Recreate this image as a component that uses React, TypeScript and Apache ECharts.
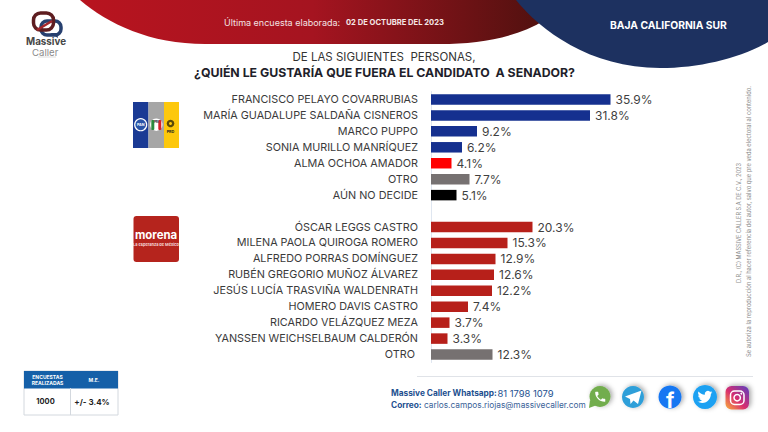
import React, { useEffect, useRef } from "react";
import * as echarts from "echarts";

const categories = [
  "FRANCISCO PELAYO COVARRUBIAS", "MARÍA GUADALUPE SALDAÑA CISNEROS", "MARCO PUPPO",
  "SONIA MURILLO MANRÍQUEZ", "ALMA OCHOA AMADOR", "OTRO", "AÚN NO DECIDE", " ",
  "ÓSCAR LEGGS CASTRO", "MILENA PAOLA QUIROGA ROMERO", "ALFREDO PORRAS DOMÍNGUEZ",
  "RUBÉN GREGORIO MUÑOZ ÁLVAREZ", "JESÚS LUCÍA TRASVIÑA WALDENRATH", "HOMERO DAVIS CASTRO",
  "RICARDO VELÁZQUEZ MEZA", "YANSSEN WEICHSELBAUM CALDERÓN", "OTRO ",
];
const values = [35.9, 31.8, 9.2, 6.2, 4.1, 7.7, 5.1, null, 20.3, 15.3, 12.9, 12.6, 12.2, 7.4, 3.7, 3.3, 12.3];
const barColors = [
  "#15308f", "#15308f", "#15308f", "#15308f", "#ff0000", "#767171", "#000000", "#ffffff",
  "#b7201a", "#b7201a", "#b7201a", "#b7201a", "#b7201a", "#b7201a", "#b7201a", "#b7201a", "#767171",
];

const FONT = "Inter";
const SHADOW = { shadowBlur: 5, shadowColor: "rgba(0,0,0,0.35)", shadowOffsetX: 2, shadowOffsetY: -1 };

echarts.graphic.registerShape("redBand", echarts.graphic.extendPath(
  "M80 0 C108 24 150 44 205 44 L440 44 C480 44 515 38 545 20 L545 0 Z", {}));
echarts.graphic.registerShape("navyBand", echarts.graphic.extendPath(
  "M516 0 C540 30 590 68 660 68 C700 68 740 58 768 42 L768 0 Z", {}));
echarts.graphic.registerShape("phoneIcon", echarts.graphic.extendPath(
  "M6.6 10.8c1.4 2.8 3.8 5.1 6.6 6.6l2.2-2.2c.3-.3.7-.4 1-.2 1.1.4 2.3.6 3.6.6.6 0 1 .4 1 1V20c0 .6-.4 1-1 1C10.6 21 3 13.4 3 4c0-.6.4-1 1-1h3.5c.6 0 1 .4 1 1 0 1.3.2 2.5.6 3.6.1.3 0 .7-.2 1z", {}));
echarts.graphic.registerShape("birdIcon", echarts.graphic.extendPath(
  "M23.953 4.57a10 10 0 0 1 -2.825 .775 4.958 4.958 0 0 0 2.163 -2.723c-.951 .555 -2.005 .959 -3.127 1.184a4.92 4.92 0 0 0 -8.384 4.482C7.69 8.095 4.067 6.13 1.64 3.162a4.822 4.822 0 0 0 -.666 2.475c0 1.71 .87 3.213 2.188 4.096a4.904 4.904 0 0 1 -2.228 -.616v.06a4.923 4.923 0 0 0 3.946 4.827 4.996 4.996 0 0 1 -2.212 .085 4.936 4.936 0 0 0 4.604 3.417 9.867 9.867 0 0 1 -6.102 2.105c-.39 0 -.779 -.023 -1.17 -.067a13.995 13.995 0 0 0 7.557 2.209c9.053 0 13.998 -7.496 13.998 -13.985 0 -.21 0 -.42 -.015 -.63A9.935 9.935 0 0 0 24 4.59z", {}));

const txt = (text: string, x: number, y: number, fontSize: number, fill: string, extra: any = {}, rotation = 0) => ({
  type: "text", x, y, rotation, silent: true,
  style: { text, fontSize, fill, fontFamily: FONT, textAlign: "left", textVerticalAlign: "middle", ...extra },
});
const rect = (x: number, y: number, width: number, height: number, fill: any, extra: any = {}, r = 0) => ({
  type: "rect", shape: { x, y, width, height, r }, style: { fill, ...extra }, silent: true,
});
const circle = (cx: number, cy: number, r: number, style: any) => ({
  type: "circle", shape: { cx, cy, r }, style, silent: true,
});

export default function App() {
  const ref = useRef<HTMLDivElement>(null);
  useEffect(() => {
    const chart = echarts.init(ref.current!, null, { renderer: "svg" });
    const redGrad = new echarts.graphic.LinearGradient(0, 0, 1, 0, [
      { offset: 0, color: "#b8141f" }, { offset: 0.5, color: "#a51420" }, { offset: 1, color: "#50110f" },
    ]);
    const instaGrad = new echarts.graphic.LinearGradient(0, 1, 1, 0, [
      { offset: 0, color: "#f9b13a" }, { offset: 0.45, color: "#d92d6e" }, { offset: 1, color: "#5a3fc0" },
    ]);
    chart.setOption({
      animation: false,
      backgroundColor: "#ffffff",
      title: [
        { text: "DE LAS SIGUIENTES  PERSONAS,", left: 379, top: 46, textAlign: "center",
          textStyle: { fontFamily: FONT, fontSize: 11.5, fontWeight: "normal", color: "#333333" } },
        { text: "¿QUIÉN LE GUSTARÍA QUE FUERA EL CANDIDATO  A SENADOR?", left: 379.5, top: 61, textAlign: "center",
          textStyle: { fontFamily: FONT, fontSize: 12.3, fontWeight: "bold", color: "#1f1f2b" } },
      ],
      grid: { left: 431, top: 91.5, width: 250, height: 271 },
      xAxis: { type: "value", min: 0, max: 50, show: false },
      yAxis: {
        type: "category", inverse: true, data: categories,
        axisTick: { show: false },
        axisLine: { show: true, lineStyle: { color: "#dfe6f0", width: 1 } },
        axisLabel: { interval: 0, margin: 13, fontSize: 10.8, color: "#3a3a3a", fontFamily: FONT },
      },
      series: [{
        type: "bar", barWidth: 10.5,
        data: values.map((value, i) => ({ value, itemStyle: { color: barColors[i] } })),
        label: {
          show: true, position: "right", distance: 5, fontSize: 12, color: "#3f3f3f", fontFamily: FONT,
          formatter: (p: any) => `${p.value}%`,
        },
      }],
      graphic: [
        { type: "redBand", style: { fill: redGrad }, silent: true },
        { type: "navyBand", style: { fill: "#1d3160" }, silent: true },
        txt("Última encuesta elaborada:", 224, 22, 9, "#f3e3e3"),
        txt("02 DE OCTUBRE DEL 2023", 346, 22, 7.6, "#f5e6e6", { fontWeight: "bold" }),
        txt("BAJA CALIFORNIA SUR", 610, 25, 10.3, "#ffffff", { fontWeight: "bold" }),

        // Massive Caller logo
        rect(41, 21, 20, 14, "none", { stroke: "#27406f", lineWidth: 3.5 }, 6),
        { type: "polygon", shape: { points: [[50, 33], [57, 33], [58, 38]] }, style: { fill: "#27406f" }, silent: true },
        rect(33.5, 13, 20, 17, "none", { stroke: "#5e1d20", lineWidth: 3.5 }, 7),
        { type: "line", shape: { x1: 37, y1: 30, x2: 52, y2: 21 }, style: { stroke: "#a3262c", lineWidth: 2.5 }, silent: true },
        txt("Massive", 26, 41, 9.8, "#474747", { fontWeight: "bold" }),
        txt("Caller", 32, 52, 9.6, "#8a8a8a"),
        rect(38, 56.5, 18, 1, "#dddddd"),

        // Coalition flag
        rect(133, 102, 15.5, 46, "#1a3a94"),
        rect(148.5, 102, 15.5, 46, "#a6a6a6"),
        rect(164, 102, 15, 46, "#fdc80c"),
        circle(140.7, 124.7, 6, { fill: "#2a54a8", stroke: "#ffffff", lineWidth: 1.2 }),
        txt("PAN", 140.7, 124.7, 3.6, "#ffffff", { fontWeight: "bold", textAlign: "center" }),
        circle(156.3, 124.7, 6.2, { fill: "#ffffff" }),
        rect(151.3, 120, 3, 10, "#2b8a3e", {}, 1),
        rect(158.3, 120, 3, 10, "#d4202a", {}, 1),
        txt("PRI", 156.3, 122, 3, "#222222", { fontWeight: "bold", textAlign: "center" }),
        circle(170.5, 123.5, 3.8, { fill: "#5a4a08" }),
        circle(170.5, 123.5, 1.5, { fill: "#fdc80c" }),
        txt("PRD", 170.5, 131, 3.8, "#222222", { fontWeight: "bold", textAlign: "center" }),

        // Morena logo
        rect(133.5, 216, 45.5, 46, "#b5241d", {}, 3),
        txt("morena", 156, 235, 11.4, "#ffffff", { fontWeight: "bold", textAlign: "center" }),
        txt("La esperanza de México", 156, 244, 3.9, "#f6dcdc", { fontWeight: "bold", textAlign: "center" }),

        // Survey table
        rect(24, 371, 94, 44, "#ffffff", { stroke: "#d3d8de", lineWidth: 1 }),
        rect(24, 371, 94, 17.5, "#1560a8"),
        { type: "line", shape: { x1: 70.5, y1: 388, x2: 70.5, y2: 415 }, style: { stroke: "#d3d8de" }, silent: true },
        txt("ENCUESTAS", 47.5, 376.5, 5, "#ffffff", { fontWeight: "bold", textAlign: "center" }),
        txt("REALIZADAS", 47.5, 383, 5, "#ffffff", { fontWeight: "bold", textAlign: "center" }),
        txt("M.E.", 94, 379.5, 5, "#ffffff", { fontWeight: "bold", textAlign: "center" }),
        txt("1000", 45.5, 401.5, 7.5, "#222222", { fontWeight: "bold", textAlign: "center" }),
        txt("+/- 3.4%", 92, 401.5, 8, "#222222", { fontWeight: "bold", textAlign: "center" }),

        // Footer
        { type: "line", shape: { x1: 417, y1: 376.5, x2: 753, y2: 376.5 }, style: { stroke: "#e0e3e8" }, silent: true },
        txt("Massive Caller Whatsapp:", 391, 393, 8.3, "#23508f", { fontWeight: "bold" }),
        txt("81 1798 1079", 497.5, 393, 9.4, "#23508f"),
        txt("Correo:", 391, 404.5, 8.3, "#23508f", { fontWeight: "bold" }),
        txt("carlos.campos.riojas@massivecaller.com", 424, 404.5, 8.3, "#3a6298"),

        circle(600, 396.5, 10.5, { fill: "#72ad4d", ...SHADOW }),
        { type: "polygon", shape: { points: [[590, 400], [589, 408], [597, 405]] }, style: { fill: "#72ad4d" }, silent: true },
        { type: "phoneIcon", x: 593.5, y: 390, scaleX: 0.56, scaleY: 0.56, style: { fill: "#ffffff" }, silent: true },

        circle(633, 397, 11, { fill: "#2f9fd9", ...SHADOW }),
        { type: "polygon", shape: { points: [[625, 396.5], [641.5, 390.5], [638, 404], [633.5, 400.5], [630.5, 404], [630, 399]] },
          style: { fill: "#ffffff" }, silent: true },

        circle(670, 397, 11.5, { fill: "#1877f2", ...SHADOW }),
        txt("f", 666, 400, 21, "#ffffff", { fontWeight: "bold" }),

        circle(705, 397, 12, { fill: "#1da1f2", ...SHADOW }),
        { type: "birdIcon", x: 697.5, y: 389.5, scaleX: 0.62, scaleY: 0.62, style: { fill: "#ffffff" }, silent: true },

        rect(725.5, 386, 23.5, 23.5, instaGrad, SHADOW, 6),
        rect(730.5, 391, 13.5, 13.5, "none", { stroke: "#ffffff", lineWidth: 1.5 }, 4),
        circle(737.2, 397.7, 3.2, { fill: "none", stroke: "#ffffff", lineWidth: 1.5 }),
        circle(741.3, 393.6, 0.9, { fill: "#ffffff" }),

        // Side legal text
        txt("D.R., (C) MASSIVE CALLER S.A DE C.V., 2023", 739, 283, 5.6, "#8c8c8c", {}, Math.PI / 2),
        txt("Se autoriza la reproducción al hacer referencia del autor, salvo que pre veda electoral al contenido.", 748.5, 357, 5.8, "#8c8c8c", {}, Math.PI / 2),
      ],
    });
    return () => chart.dispose();
  }, []);
  return <div ref={ref} style={{ position: "absolute", left: 0, top: 0, width: 768, height: 432 }} />;
}
